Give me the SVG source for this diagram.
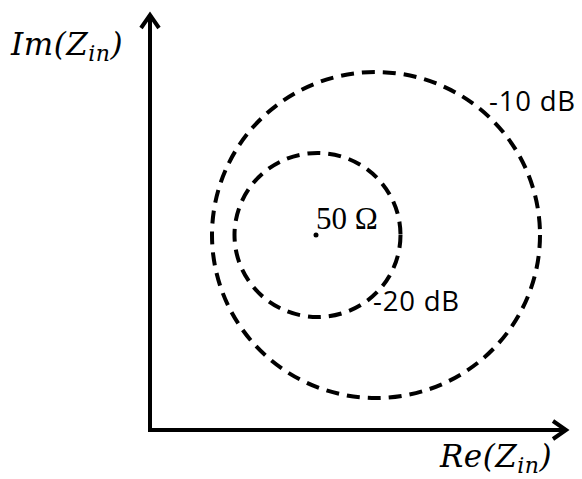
<svg xmlns="http://www.w3.org/2000/svg" width="582" height="479" viewBox="0 0 582 479">
<style>
.ax{stroke:#000;stroke-width:4;fill:none}
.ah{stroke:#000;stroke-width:4;fill:none;stroke-linecap:butt}
.dc{stroke:#000;stroke-width:4;fill:none;stroke-dasharray:13 8}
.m{font-family:"DejaVu Serif","Liberation Serif",serif;font-style:italic;font-size:31px;letter-spacing:0.5px;fill:#000}
.sub{font-size:22px}
.lb{font-family:"Open Sans","Liberation Sans",sans-serif;font-size:27.5px;letter-spacing:0.8px;fill:#000}
.om{font-family:"Liberation Serif",serif;font-size:31px;fill:#000}
</style>
<rect width="582" height="479" fill="#fff"/>
<g id="axes">
<line class="ax" x1="150" y1="432" x2="150" y2="16"/>
<line class="ax" x1="148" y1="430" x2="564" y2="430"/>
<polyline class="ah" points="141,28 150,15 159,28"/>
<polyline class="ah" points="553,421 566,430 553,439"/>
</g>
<g id="circle-10dB">
<ellipse class="dc" cx="376" cy="235" rx="164" ry="163"/>
<text class="lb" x="489" y="111">-10 dB</text>
</g>
<g id="circle-20dB">
<ellipse class="dc" cx="317.5" cy="235" rx="83" ry="82"/>
<text class="lb" x="373" y="311">-20 dB</text>
</g>
<g id="center">
<circle cx="316" cy="235" r="2.5" fill="#000"/>
<text class="om" x="316" y="229">50 Ω</text>
</g>
<g id="labels">
<text class="m" x="11" y="55">Im(Z<tspan class="sub" dy="6">in</tspan><tspan dy="-6">)</tspan></text>
<text class="m" x="440" y="467">Re(Z<tspan class="sub" dy="6">in</tspan><tspan dy="-6">)</tspan></text>
</g>
</svg>
